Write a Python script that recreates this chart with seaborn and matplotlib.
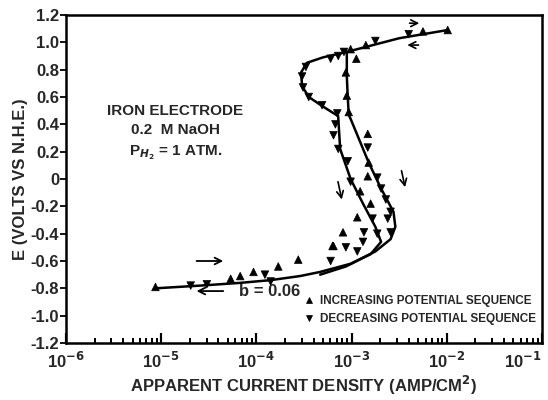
import numpy as np
import pandas as pd
import matplotlib
matplotlib.use("Agg")
import matplotlib.pyplot as plt
import seaborn as sns
from matplotlib.ticker import FixedLocator, NullFormatter

# data: log10 of current density (A/cm2) and potential E (V vs NHE)
inc_log = [-1.99, -2.25, -2.85, -3.01, -2.95, -3.06, -3.05, -3.03,
           -2.83, -2.82, -2.83, -2.91, -2.80, -2.94, -3.09, -3.19,
           -5.06, -4.27, -4.17, -4.03, -3.77, -3.56, -3.20]
inc_E = [1.09, 1.08, 0.98, 0.95, 0.88, 0.78, 0.61, 0.49,
         0.33, 0.12, 0.02, -0.09, -0.18, -0.28, -0.39, -0.49,
         -0.79, -0.73, -0.71, -0.68, -0.64, -0.59, -0.49]

dec_log = [-2.40, -2.75, -3.08, -3.14, -3.22, -3.48, -3.52, -3.51,
           -3.45, -3.31, -3.15, -3.17, -3.19, -2.83, -3.14, -3.04,
           -2.73, -3.01, -2.69, -2.64, -2.59, -2.78, -2.62, -2.87,
           -2.73, -2.59, -4.69, -4.52, -3.91, -3.85, -3.22, -3.06,
           -2.94, -2.88]
dec_E = [1.06, 1.01, 0.93, 0.90, 0.88, 0.82, 0.75, 0.67,
         0.60, 0.54, 0.48, 0.40, 0.32, 0.23, 0.22, 0.13,
         0.01, -0.02, -0.07, -0.15, -0.24, -0.29, -0.29, -0.39,
         -0.40, -0.39, -0.78, -0.77, -0.70, -0.75, -0.60, -0.50,
         -0.53, -0.46]

# drawn curves
top_log = [-1.99, -2.5, -3.05, -3.3, -3.47, -3.53, -3.52, -3.45, -3.3, -3.14]
top_E = [1.09, 1.03, 0.93, 0.89, 0.85, 0.78, 0.68, 0.60, 0.53, 0.46]
vert_log = [-3.05, -3.05, -3.04, -3.03]
vert_E = [0.93, 0.75, 0.60, 0.47]
right_log = [-3.03, -3.01, -2.82, -2.69, -2.56, -2.54, -2.59, -2.75, -3.01,
             -3.33, -3.54, -3.85, -4.17, -4.59, -5.06]
right_E = [0.47, 0.44, 0.12, -0.07, -0.24, -0.35, -0.44, -0.53, -0.62,
           -0.68, -0.71, -0.74, -0.76, -0.78, -0.80]
left_log = [-3.14, -3.12, -3.01, -2.88, -2.75, -2.69, -2.80, -3.06, -3.33]
left_E = [0.45, 0.22, 0.0, -0.18, -0.35, -0.46, -0.55, -0.64, -0.70]

yticks = [1.2, 1.0, 0.8, 0.6, 0.4, 0.2, 0, -0.2, -0.4, -0.6, -0.8, -1.0, -1.2]
ytick_labels = ["1.2", "1.0", "0.8", "0.6", "0.4", "0.2", "0",
                "-0.2", "-0.4", "-0.6", "-0.8", "-1.0", "-1.2"]
xexp = [-6, -5, -4, -3, -2, -1]

INC = "INCREASING POTENTIAL SEQUENCE"
DEC = "DECREASING POTENTIAL SEQUENCE"

pts = pd.DataFrame({
    "i": np.power(10.0, inc_log + dec_log),
    "E": inc_E + dec_E,
    "seq": [INC] * len(inc_log) + [DEC] * len(dec_log),
})

sns.set_theme(style="ticks")
plt.rcParams['font.family'] = ['Liberation Sans', 'DejaVu Sans']
plt.rcParams['font.weight'] = 'bold'

fig = plt.figure(figsize=(5.48, 4.0), dpi=100)
ax = fig.add_axes([0.1204, 0.1425, 0.8686, 0.82])
ax.set_xscale("log")

for lx, ly in [(top_log, top_E), (vert_log, vert_E), (right_log, right_E), (left_log, left_E)]:
    seg = pd.DataFrame({"i": np.power(10.0, lx), "E": ly})
    sns.lineplot(data=seg, x="i", y="E", sort=False, estimator=None,
                 color="black", lw=1.8, ax=ax)

sns.scatterplot(data=pts, x="i", y="E", style="seq", hue="seq",
                markers={INC: "^", DEC: "v"}, palette={INC: "black", DEC: "black"},
                s=30, edgecolor="black", linewidth=0.5, ax=ax)

ax.set_xlim(1e-6, 1e-1)
ax.set_ylim(-1.2, 1.2)
for sp in ax.spines.values():
    sp.set_linewidth(1.8)
    sp.set_color("black")

ax.set_xlabel("APPARENT CURRENT DENSITY (AMP/CM$^2$)", fontsize=12, fontweight="bold", labelpad=2)
ax.set_ylabel("E (VOLTS VS N.H.E.)", fontsize=12, fontweight="bold", labelpad=2)

ax.text(0.23, 0.73, "IRON ELECTRODE\n0.2  M NaOH\nP$_{H_2}$ = 1 ATM.", transform=ax.transAxes,
        ha="center", va="top", fontsize=11, fontweight="bold", linespacing=1.5)

ax.annotate("", xy=(2.2e-5, -0.6), xytext=(4.8e-5, -0.6), xycoords="data",
            arrowprops=dict(arrowstyle="<-", lw=1.3, color="black"))
ax.annotate("", xy=(2.2e-5, -0.82), xytext=(4.8e-5, -0.82),
            arrowprops=dict(arrowstyle="->", lw=1.3, color="black"))
ax.text(6.5e-5, -0.82, "b = 0.06", fontsize=12, fontweight="bold", va="center")
ax.annotate("", xy=(5.5e-3, 1.14), xytext=(3.8e-3, 1.14),
            arrowprops=dict(arrowstyle="->", lw=1.2, color="black"))
ax.annotate("", xy=(3.6e-3, 0.98), xytext=(5.4e-3, 0.98),
            arrowprops=dict(arrowstyle="->", lw=1.2, color="black"))
ax.annotate("", xy=(3.7e-3, -0.08), xytext=(3.3e-3, 0.08),
            arrowprops=dict(arrowstyle="->", lw=1.2, color="black"))
ax.annotate("", xy=(8.0e-4, -0.17), xytext=(7.1e-4, 0.0),
            arrowprops=dict(arrowstyle="->", lw=1.2, color="black"))

leg = ax.legend(loc="lower left", bbox_to_anchor=(0.48, 0.03), frameon=False,
                fontsize=8.5, handletextpad=0.5, borderaxespad=0.3,
                labelspacing=0.5, handlelength=1.0, markerscale=0.8)
for t in leg.get_texts():
    t.set_fontweight("bold")

# ticks
major = [10.0 ** e for e in xexp]
minor = [m * 10.0 ** e for e in xexp[:-1] for m in range(2, 10)]
ax.set_xticks(major)
ax.set_xticklabels(["10$^{%d}$" % e for e in xexp], fontsize=12, fontweight="bold")
ax.get_xticklabels()[-1].set_horizontalalignment("right")
ax.xaxis.set_minor_locator(FixedLocator(minor))
ax.xaxis.set_minor_formatter(NullFormatter())
ax.set_yticks(yticks)
ax.set_yticklabels(ytick_labels, fontsize=12, fontweight="bold")
ax.tick_params(axis="x", which="major", direction="in", length=7, width=1.5, pad=6, color="black")
ax.tick_params(axis="x", which="minor", direction="in", length=3.5, width=1.4, color="black")
ax.tick_params(axis="y", which="major", direction="out", length=4, width=1.3, pad=1, color="black")
ax.set_axisbelow(False)
# same inward tick marks drawn again as plain segments, in case the axis ones are hidden
xtr = ax.get_xaxis_transform()
ax.vlines(major, 0, 0.03, transform=xtr, colors="black", lw=1.5, clip_on=False, zorder=6)
ax.vlines(minor, 0, 0.015, transform=xtr, colors="black", lw=1.4, clip_on=False, zorder=6)

fig.savefig("out.png", dpi=100)
